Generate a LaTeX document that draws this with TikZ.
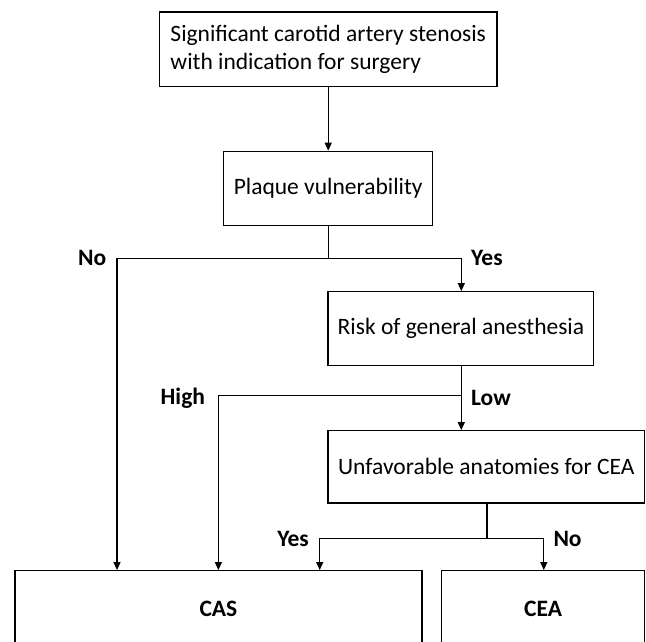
\documentclass[tikz,border=0pt]{standalone}
\usepackage{fontspec}
\setmainfont{Carlito}
\usetikzlibrary{arrows.meta}
\begin{document}
\begin{tikzpicture}[x=1pt,y=-1pt,
  boxnode/.style={draw, line width=1.3pt, rectangle, inner sep=0pt, font=\fontsize{23.5}{28}\selectfont, align=center},
  lab/.style={font=\fontsize{23.5}{28}\selectfont\bfseries, inner sep=0pt},
  conn/.style={line width=1.3pt},
  arr/.style={line width=1.3pt, -{Triangle[width=7pt,length=8pt]}}
]
\useasboundingbox (0,0) rectangle (646,641);
\clip (0,0) rectangle (646,641);
\node[boxnode, align=left, minimum width=337.5pt, minimum height=74.3pt] (top) at (328.2,49.2) {Significant carotid artery stenosis\\with indication for surgery};
\node[boxnode, minimum width=209pt, minimum height=74.4pt] (pv) at (328.2,188.5) {Plaque vulnerability};
\node[boxnode, minimum width=265.7pt, minimum height=73.8pt] (risk) at (460.9,328.6) {Risk of general anesthesia};
\node[boxnode, minimum width=316.5pt, minimum height=72.3pt] (unf) at (486.3,466.9) {Unfavorable anatomies for CEA};
\node[boxnode, minimum width=407pt, minimum height=76pt, font=\fontsize{23.5}{28}\selectfont\bfseries] (cas) at (218.4,608.7) {CAS};
\node[boxnode, minimum width=203pt, minimum height=76pt, font=\fontsize{23.5}{28}\selectfont\bfseries] (cea) at (543.1,608.7) {CEA};

\coordinate (j1) at (328.2,258.3);
\coordinate (j1l) at (117,258.3);
\coordinate (j1r) at (461.3,258.3);
\coordinate (j2) at (461.3,395.7);
\coordinate (j2l) at (218.4,395.7);
\coordinate (j3) at (487,538.3);
\coordinate (j3l) at (319.7,538.3);
\coordinate (j3r) at (543.8,538.3);

\draw[arr] (top.south) -- (pv.north);
\draw[conn] (pv.south) -- (j1);
\draw[arr] (j1) -- (j1l) -- (cas.north -| j1l);
\draw[arr] (j1) -- (j1r) -- (risk.north -| j1r);
\draw[conn] (risk.south -| j2) -- (j2);
\draw[arr] (j2) -- (unf.north -| j2);
\draw[arr] (j2) -- (j2l) -- (cas.north -| j2l);
\draw[conn] (unf.south -| j3) -- (j3);
\draw[arr] (j3) -- (j3l) -- (cas.north -| j3l);
\draw[arr] (j3) -- (j3r) -- (cea.north -| j3r);

\node[lab, anchor=east] (lno1) at (106.5,258.3) {No};
\node[lab, anchor=west] (lyes1) at (470.9,258.3) {Yes};
\node[lab, anchor=east] (lhigh) at (205.2,398) {High};
\node[lab, anchor=west] (llow) at (470.9,398) {Low};
\node[lab, anchor=east] (lyes2) at (309,538.8) {Yes};
\node[lab, anchor=west] (lno2) at (553.3,538.8) {No};
\end{tikzpicture}
\end{document}
